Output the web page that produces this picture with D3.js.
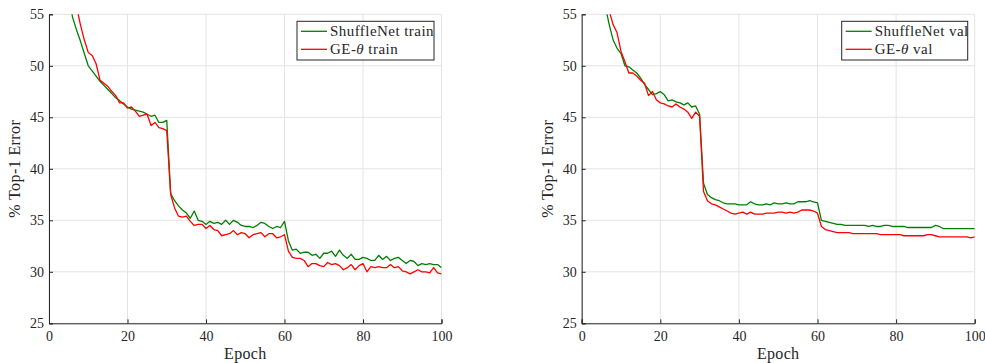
<!DOCTYPE html>
<html>
<head>
<meta charset="utf-8">
<script src="https://cdn.jsdelivr.net/npm/d3@7"></script>
<style>
  body { margin: 0; background: #fff; }
  text { font-family: "Liberation Serif", "DejaVu Serif", serif; fill: #262626; }
</style>
</head>
<body>
<div id="chart"></div>
<script>
// epochs 1..100
const epochs = d3.range(1, 101);
const yTicks = [25, 30, 35, 40, 45, 50, 55];
const xTicks = [0, 20, 40, 60, 80, 100];

const shuffleTrain = [
  80, 70, 64, 60, 57, 54.7, 53.5, 52.4, 51.2, 50.0,
  49.5, 49.0, 48.5, 48.1, 47.7, 47.3, 46.9, 46.6, 46.3, 46.0,
  45.8, 45.7, 45.6, 45.5, 45.3, 45.1, 45.2, 44.5, 44.5, 44.7,
  37.6, 36.9, 36.4, 36.0, 35.7, 35.2, 35.9, 35.0, 34.9, 34.6,
  34.9, 34.7, 34.8, 34.6, 35.0, 34.6, 35.0, 34.8, 34.5, 34.4,
  34.4, 34.3, 34.5, 34.8, 34.7, 34.4, 34.2, 34.4, 34.3, 34.9,
  33.0, 32.1, 32.2, 31.8, 31.9, 31.9, 31.6, 31.7, 31.3, 31.8,
  31.8, 32.0, 31.5, 32.1, 31.6, 31.3, 31.7, 31.2, 31.2, 31.4,
  31.3, 31.1, 31.1, 31.6, 31.2, 31.5, 31.1, 31.3, 31.4, 31.1,
  30.8, 31.1, 31.0, 30.6, 30.8, 30.7, 30.8, 30.7, 30.7, 30.4
];
const geTrain = [
  85, 74, 67, 62, 59, 57, 55.8, 54.0, 52.5, 51.3,
  51.0, 50.2, 48.6, 48.3, 48.0, 47.5, 47.1, 46.4, 46.4, 45.9,
  46.0, 45.6, 45.1, 45.2, 45.3, 44.2, 44.5, 44.0, 43.9, 43.7,
  37.5, 36.2, 35.4, 35.3, 35.4, 34.9, 34.5, 34.6, 34.6, 34.2,
  34.5, 34.1, 34.0, 33.5, 33.6, 33.7, 34.0, 33.6, 33.8, 33.7,
  33.3, 33.6, 33.7, 33.8, 33.4, 33.7, 33.7, 33.3, 33.4, 33.6,
  32.0, 31.4, 31.3, 31.3, 31.1, 30.5, 30.8, 30.8, 30.6, 30.5,
  30.9, 30.7, 30.8, 30.6, 30.2, 30.4, 30.7, 30.2, 30.6, 30.8,
  30.0, 30.5, 30.4, 30.5, 30.4, 30.4, 30.7, 30.4, 30.5, 30.1,
  30.0, 29.8, 30.0, 30.2, 30.0, 30.0, 29.9, 30.4, 29.9, 29.8
];
const shuffleVal = [
  80, 70, 64, 60, 57.5, 55.8, 54.0, 52.5, 51.7, 51.2,
  50.0, 49.9, 49.6, 49.3, 48.8, 48.2, 47.7, 47.2, 47.3, 47.5,
  47.2, 46.6, 46.7, 46.5, 46.4, 46.2, 46.4, 46.0, 46.1, 45.3,
  38.6, 37.5, 37.2, 37.0, 36.9, 36.7, 36.6, 36.6, 36.6, 36.5,
  36.5, 36.5, 36.8, 36.6, 36.5, 36.5, 36.6, 36.5, 36.7, 36.6,
  36.6, 36.7, 36.6, 36.6, 36.8, 36.8, 36.8, 36.9, 36.8, 36.7,
  35.0, 34.9, 34.8, 34.7, 34.6, 34.6, 34.5, 34.5, 34.5, 34.5,
  34.5, 34.5, 34.4, 34.5, 34.4, 34.4, 34.5, 34.5, 34.4, 34.4,
  34.4, 34.4, 34.3, 34.3, 34.3, 34.3, 34.3, 34.3, 34.3, 34.5,
  34.4, 34.2, 34.2, 34.2, 34.2, 34.2, 34.2, 34.2, 34.2, 34.2
];
const geVal = [
  85, 74, 67, 62, 58.5, 56.5, 55.3, 54.0, 53.2, 51.4,
  50.4, 49.3, 49.3, 49.0, 48.6, 48.3, 47.1, 47.5, 46.7, 46.4,
  46.3, 46.1, 46.0, 46.3, 46.0, 45.8, 45.5, 44.9, 45.5, 45.1,
  37.8, 36.9, 36.6, 36.5, 36.3, 36.1, 35.9, 35.7, 35.6, 35.7,
  35.8, 35.6, 35.8, 35.6, 35.6, 35.6, 35.7, 35.7, 35.7, 35.8,
  35.8, 35.7, 35.8, 35.7, 35.8, 36.0, 36.0, 36.0, 35.9, 35.7,
  34.4, 34.1, 34.0, 33.9, 33.8, 33.8, 33.8, 33.8, 33.7, 33.7,
  33.7, 33.7, 33.7, 33.7, 33.7, 33.6, 33.6, 33.6, 33.6, 33.6,
  33.6, 33.5, 33.5, 33.5, 33.5, 33.5, 33.5, 33.6, 33.6, 33.5,
  33.4, 33.4, 33.4, 33.4, 33.4, 33.4, 33.4, 33.4, 33.3, 33.4
];

const width = 985, height = 363;
const svg = d3.select('#chart').append('svg')
  .attr('width', width)
  .attr('height', height);

const panels = [
  { left: 49, right: 441.5, series: [shuffleTrain, geTrain], names: ['ShuffleNet train', 'GE-', ' train'], legendX: 297, legendW: 137, id: 'a' },
  { left: 581.7, right: 974.7, series: [shuffleVal, geVal], names: ['ShuffleNet val', 'GE-', ' val'], legendX: 841.7, legendW: 126, id: 'b' }
];
const colors = ['#008000', '#ff0000'];
const plotTop = 14.3, plotBottom = 323.3;

panels.forEach(p => {
  const x = d3.scaleLinear().domain([0, 100]).range([p.left, p.right]);
  const y = d3.scaleLinear().domain([25, 55]).range([plotBottom, plotTop]);
  const g = svg.append('g');

  // grid
  g.append('g').selectAll('line').data(xTicks).join('line')
    .attr('x1', d => x(d)).attr('x2', d => x(d))
    .attr('y1', plotTop).attr('y2', plotBottom)
    .attr('stroke', '#e3e3e3').attr('stroke-width', 1);
  g.append('g').selectAll('line').data(yTicks).join('line')
    .attr('x1', p.left).attr('x2', p.right)
    .attr('y1', d => y(d)).attr('y2', d => y(d))
    .attr('stroke', '#e3e3e3').attr('stroke-width', 1);

  // clip
  svg.append('clipPath').attr('id', 'clip-' + p.id)
    .append('rect')
    .attr('x', p.left).attr('y', plotTop)
    .attr('width', p.right - p.left).attr('height', plotBottom - plotTop);

  const line = d3.line()
    .x((d, i) => x(epochs[i]))
    .y(d => y(d));

  p.series.forEach((s, k) => {
    g.append('path')
      .datum(s)
      .attr('clip-path', `url(#clip-${p.id})`)
      .attr('fill', 'none')
      .attr('stroke', colors[k])
      .attr('stroke-width', 1.3)
      .attr('stroke-linejoin', 'round')
      .attr('d', line);
  });

  // axes
  const xAxis = g.append('g')
    .attr('transform', `translate(0,${plotBottom})`)
    .call(d3.axisBottom(x).tickValues(xTicks).tickSize(-4).tickPadding(8).tickFormat(d3.format('d')));
  const yAxis = g.append('g')
    .attr('transform', `translate(${p.left},0)`)
    .call(d3.axisLeft(y).tickValues(yTicks).tickSize(-4).tickPadding(5).tickFormat(d3.format('d')));
  [xAxis, yAxis].forEach(a => {
    a.select('.domain').attr('stroke', '#262626').attr('stroke-width', 1);
    a.selectAll('.tick line').attr('stroke', '#262626');
    a.selectAll('.tick text')
      .style('font-family', '"Liberation Serif", serif')
      .style('font-size', '14px')
      .attr('fill', '#262626');
  });

  // labels
  g.append('text')
    .attr('x', (p.left + p.right) / 2)
    .attr('y', 359)
    .attr('text-anchor', 'middle')
    .style('font-size', '16px')
    .style('letter-spacing', '0.3px')
    .text('Epoch');
  g.append('text')
    .attr('transform', `translate(${p.left - 29},${(plotTop + plotBottom) / 2}) rotate(-90)`)
    .attr('text-anchor', 'middle')
    .style('font-size', '16px')
    .style('letter-spacing', '0.4px')
    .text('% Top-1 Error');

  // legend
  const lg = g.append('g').attr('transform', `translate(${p.legendX},21.3)`);
  lg.append('rect')
    .attr('width', p.legendW).attr('height', 38.7)
    .attr('fill', '#fff').attr('stroke', '#262626').attr('stroke-width', 1);
  [0, 1].forEach(k => {
    const ly = 10 + k * 18;
    lg.append('line')
      .attr('x1', 4).attr('x2', 30)
      .attr('y1', ly).attr('y2', ly)
      .attr('stroke', colors[k]).attr('stroke-width', 1.3);
    const t = lg.append('text')
      .attr('x', 33).attr('y', ly + 5)
      .style('font-size', '15px')
      .style('letter-spacing', '0.45px');
    if (k === 0) {
      t.text(p.names[0]);
    } else {
      t.append('tspan').text(p.names[1]);
      t.append('tspan').style('font-style', 'italic').text('θ');
      t.append('tspan').text(p.names[2]);
    }
  });
});
</script>
</body>
</html>
